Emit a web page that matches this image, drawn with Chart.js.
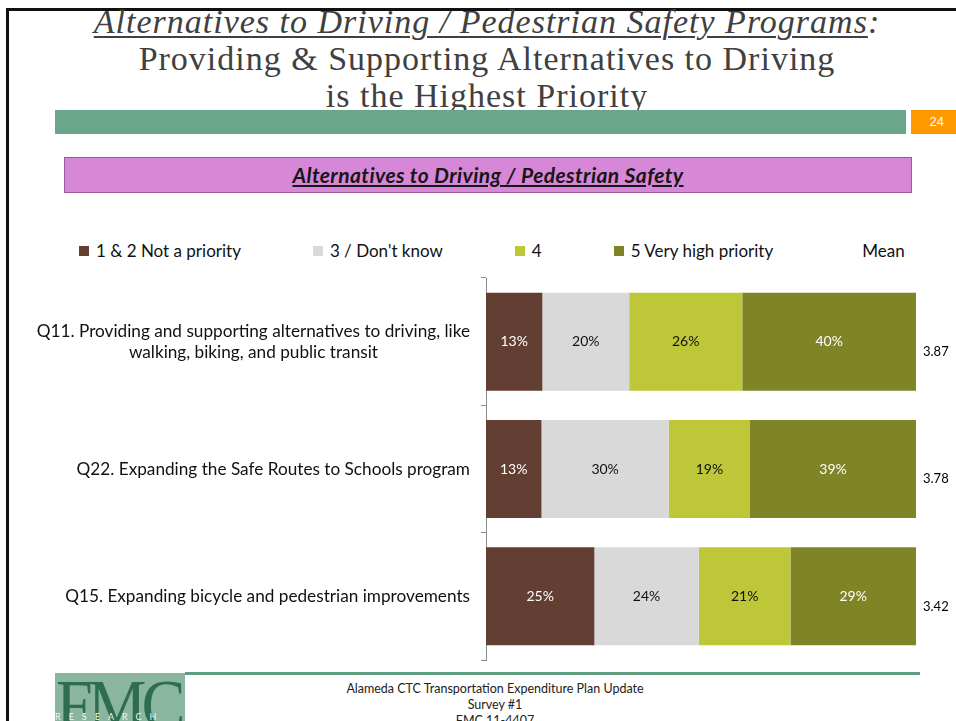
<!DOCTYPE html>
<html>
<head>
<meta charset="utf-8">
<script src="https://cdn.jsdelivr.net/npm/chart.js@4.4.0/dist/chart.umd.min.js"></script>
<style>
  body { margin: 0; width: 956px; height: 721px; overflow: hidden; background: #fff; position: relative; font-family: Lato, sans-serif; }
  .abs { position: absolute; }
  #frame { left: 6px; top: 8px; width: 960px; height: 730px; border-top: 3px solid #111; border-left: 3px solid #111; }
  #title { left: 18px; top: 3px; width: 938px; text-align: center; font-family: "Liberation Serif", serif; font-size: 34px; letter-spacing: 1px; line-height: 37px; color: #404040; }
  #title .t1 { font-style: italic; }
  #title .t1 u { text-decoration-thickness: 2px; text-underline-offset: 3px; }
  #greenBar { left: 55px; top: 110px; width: 851px; height: 24px; background: #6aa689; }
  #pageNo { left: 911px; top: 110px; width: 45px; height: 24px; background: #ff9900; color: #fff; font: 13px "Liberation Sans", sans-serif; line-height: 24px; text-align: right; box-sizing: border-box; padding-right: 12px; }
  #boxTitle { left: 64px; top: 157px; width: 848px; height: 36px; box-sizing: border-box; background: #d787d7; border: 1.5px solid #9b5a9b; text-align: center; font: italic bold 21px Lato, sans-serif; letter-spacing: 0.4px; line-height: 33px; color: #161616; }
  #legend { left: 79px; top: 240px; display: flex; align-items: center; gap: 72px; font-size: 17px; color: #111; white-space: nowrap; }
  #legend .item { display: flex; align-items: center; }
  #legend .sw { width: 10px; height: 10px; margin-right: 7px; }
  #chartWrap { left: 0; top: 270px; width: 956px; height: 400px; }
  #footLine { left: 185px; top: 672px; width: 735px; height: 3px; background: #5f9d80; }
  #logo { left: 55px; top: 673px; width: 130px; height: 48px; background: #8ab59e; overflow: hidden; }
  #logo .big { position: absolute; left: 1px; top: -10px; font-family: "Liberation Serif", serif; font-size: 66px; color: #2e6d4f; letter-spacing: -5px; transform: scaleY(1.1); transform-origin: top left; }
  #logo .small { position: absolute; left: 0; top: 38px; font-size: 9px; color: #eef5f0; letter-spacing: 8px; }
  #foot { left: 295px; top: 681px; width: 400px; text-align: center; font-size: 12.5px; line-height: 16px; color: #222; }
</style>
</head>
<body>
<div id="frame" class="abs"></div>
<div id="title" class="abs">
  <div class="t1"><u>Alternatives to Driving / Pedestrian Safety Programs</u>:</div>
  <div>Providing &amp; Supporting Alternatives to Driving</div>
  <div>is the Highest Priority</div>
</div>
<div id="greenBar" class="abs"></div>
<div id="pageNo" class="abs">24</div>
<div id="boxTitle" class="abs"><u>Alternatives to Driving / Pedestrian Safety</u></div>
<div id="legend" class="abs"></div>
<div id="chartWrap" class="abs"><canvas id="barChartID" width="956" height="400"></canvas></div>
<div id="footLine" class="abs"></div>
<div id="logo" class="abs"><span class="big">FMC</span><span class="small">RESEARCH</span></div>
<div id="foot" class="abs">Alameda CTC Transportation Expenditure Plan Update<br>Survey #1<br>FMC 11-4407</div>

<script>
'use strict';

// questions (top to bottom)
const questions = [
  ['Q11. Providing and supporting alternatives to driving, like', 'walking, biking, and public transit'],
  'Q22. Expanding the Safe Routes to Schools program',
  'Q15. Expanding bicycle and pedestrian improvements'
];

const seriesNames = ['1 & 2 Not a priority', '3 / Don\'t know', '4', '5 Very high priority'];

// share of respondents, %
const notPriority = [13.1, 12.9, 25.2];
const dontKnow   = [20.2, 29.6, 24.3];
const four       = [26.3, 18.9, 21.3];
const veryHigh   = [40.4, 38.6, 29.2];

const means = [3.87, 3.78, 3.42];

const barColors  = ['#633e32', '#d9d9d9', '#bec738', '#7f8427'];
const textColors = ['#ffffff', '#111111', '#111111', '#ffffff'];

// legend (html)
let legendPlace = document.getElementById('legend');
for (let i = 0; i < seriesNames.length + 1; i++) {
  let item = document.createElement('div');
  item.className = 'item';
  let sw = document.createElement('span');
  sw.className = 'sw';
  sw.style.background = i < seriesNames.length ? barColors[i] : 'transparent';
  let txt = document.createElement('span');
  txt.textContent = i < seriesNames.length ? seriesNames[i] : 'Mean';
  item.appendChild(sw);
  item.appendChild(txt);
  legendPlace.appendChild(item);
}

const seriesValues = [notPriority, dontKnow, four, veryHigh];

// category labels, each block right aligned, lines centred within it
const questionLabels = {
  id: 'questionLabels',
  afterDraw(chart) {
    const ctx = chart.ctx;
    const yScale = chart.scales.y;
    const right = chart.chartArea.left - 16;
    ctx.save();
    ctx.font = '17.2px Lato';
    ctx.fillStyle = '#111';
    ctx.textAlign = 'center';
    ctx.textBaseline = 'middle';
    questions.forEach((q, i) => {
      const lines = Array.isArray(q) ? q : [q];
      let w = 0;
      lines.forEach(l => { w = Math.max(w, ctx.measureText(l).width); });
      const y = yScale.getPixelForValue(i);
      const lh = 21;
      lines.forEach((l, k) => {
        ctx.fillText(l, right - w / 2, y - (lines.length - 1) * lh / 2 + k * lh);
      });
    });
    ctx.restore();
  }
};

// % inside segments and mean on the right
const valueLabels = {
  id: 'valueLabels',
  afterDatasetsDraw(chart) {
    const ctx = chart.ctx;
    ctx.save();
    ctx.textBaseline = 'middle';
    ctx.font = '14px Lato';
    ctx.textAlign = 'center';
    chart.data.datasets.forEach((ds, d) => {
      const meta = chart.getDatasetMeta(d);
      meta.data.forEach((bar, i) => {
        ctx.fillStyle = textColors[d];
        ctx.fillText(Math.round(ds.data[i]) + '%', (bar.x + bar.base) / 2, bar.y);
      });
    });
    ctx.font = '13px Lato';
    ctx.textAlign = 'left';
    ctx.fillStyle = '#000';
    means.forEach((m, i) => {
      const y = chart.scales.y.getPixelForValue(i);
      ctx.fillText(m.toFixed(2), chart.chartArea.right + 7, y + 10);
    });
    ctx.restore();
  }
};

const data = {
  labels: questions,
  datasets: seriesNames.map((name, d) => ({
    label: name,
    data: seriesValues[d],
    backgroundColor: barColors[d],
    borderWidth: 0,
    barPercentage: 0.77,
    categoryPercentage: 1
  }))
};

const config = {
  type: 'bar',
  data: data,
  options: {
    indexAxis: 'y',
    responsive: false,
    animation: false,
    devicePixelRatio: 1,
    layout: { padding: { top: 8, bottom: 10, left: 0, right: 40 } },
    plugins: { legend: { display: false }, tooltip: { enabled: false } },
    scales: {
      x: { stacked: true, min: 0, max: 100, display: false },
      y: {
        stacked: true,
        grid: { offset: true, drawOnChartArea: false, tickLength: 5, color: '#8a8a8a' },
        border: { color: '#8a8a8a', width: 1 },
        ticks: { display: false },
        afterFit: s => { s.width = 486; }
      }
    }
  },
  plugins: [questionLabels, valueLabels]
};

const barChart = new Chart(document.getElementById('barChartID'), config);
</script>
</body>
</html>
